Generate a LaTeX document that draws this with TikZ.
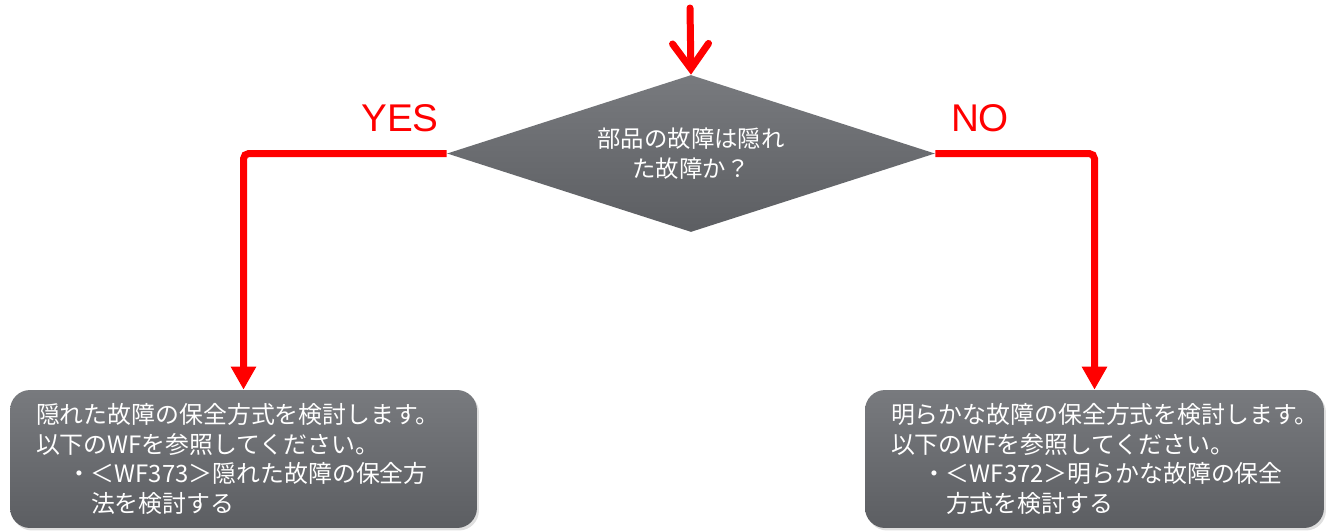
\documentclass[tikz,border=0pt]{standalone}
\usepackage{fontspec}
\setmainfont{Liberation Sans}
\newfontfamily\jp{Noto Sans CJK JP}
\usetikzlibrary{positioning, arrows.meta, shapes.geometric, shadows}

\definecolor{flowred}{RGB}{255,0,0}
\definecolor{greytop}{RGB}{120,122,126}
\definecolor{greybot}{RGB}{92,94,98}

\begin{document}
\begin{tikzpicture}[x=0.02cm, y=-0.02cm,
    flow/.style={draw=flowred, line width=0.14cm, rounded corners=3pt},
    answer/.style={text=flowred, font=\fontsize{22}{26}\selectfont},
    panel/.style={rectangle, rounded corners=0.4cm, top color=greytop, bottom color=greybot, draw=none,
        minimum height=2.76cm, text width=8.3cm, inner xsep=0.52cm, align=left, text=white,
        font=\jp\fontsize{13.6}{16.8}\selectfont, drop shadow={opacity=0.25, shadow xshift=0.04cm, shadow yshift=-0.05cm}}]
    \useasboundingbox (0,0) rectangle (1326,531);
    \coordinate (start) at (690,8);
    \node (dec) [diamond, aspect=3.1, top color=greytop, bottom color=greybot, inner sep=0pt, minimum width=9.76cm, minimum height=3.14cm,
        align=center, text=white, font=\jp\fontsize{13.3}{16.8}\selectfont] at (691,153.5) {部品の故障は隠れ\\た故障か？};
    \node (yes) [answer] at (400,118) {YES};
    \node (no) [answer] at (980,118) {NO};
    \node (yesbox) [panel] at (243.5,459) {隠れた故障の保全方式を検討します。\\以下のWFを参照してください。\\\hspace*{0.62cm}・＜WF373＞隠れた故障の保全方\\\hspace*{1.1cm}法を検討する};
    \node (nobox) [panel, text width=8.14cm] at (1094.5,459) {明らかな故障の保全方式を検討します。\\以下のWFを参照してください。\\\hspace*{0.62cm}・＜WF372＞明らかな故障の保全\\\hspace*{1.1cm}方式を検討する};
    \draw [flow, line cap=round, -{Straight Barb[length=0.5cm, width=0.72cm, line cap=round]}] (start) -- (dec.north);
    \draw [flow, -{Triangle[length=0.46cm, width=0.48cm]}] (dec.west) -| (yesbox.north);
    \draw [flow, -{Triangle[length=0.46cm, width=0.48cm]}] (dec.east) -| (nobox.north);
\end{tikzpicture}
\end{document}
